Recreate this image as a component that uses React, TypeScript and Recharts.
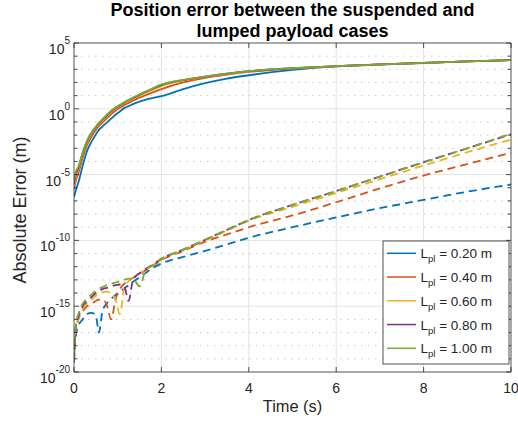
import React from 'react';
import { LineChart, Line, XAxis, YAxis, ReferenceLine } from 'recharts';

const W = 518;
const H = 424;
const PL = 74;
const PT = 43;
const PR = 511;
const PB = 372;
const PW = PR - PL;
const PH = PB - PT;
const FONT = '"Liberation Sans", Arial, Helvetica, sans-serif';
const AX = '#262626';

// time samples (s)
const time = [0, 0.04, 0.1, 0.2, 0.3, 0.4, 0.5, 0.57, 0.65, 0.75, 0.85, 0.95, 1.05, 1.15, 1.25, 1.35, 1.5, 1.65, 1.8, 2, 2.5, 3, 3.5, 4, 5, 6, 7, 8, 9, 10];

const lengthLabels = ['0.20', '0.40', '0.60', '0.80', '1.00'];
const colors = ['#0072BD', '#D95319', '#EDB120', '#7E2F8E', '#77AC30'];

// log10 of absolute error, solid curves
const solid020 = [-6.7, -6.2, -5.6, -4.3, -3.2, -2.5, -1.95, -1.6, -1.35, -1.05, -0.75, -0.45, -0.2, 0.05, 0.2, 0.35, 0.55, 0.7, 0.82, 0.96, 1.5, 1.95, 2.3, 2.55, 2.95, 3.22, 3.36, 3.48, 3.6, 3.7];
const solid040 = [-6.1, -5.5, -4.9, -3.7, -2.75, -2.1, -1.6, -1.3, -1.05, -0.72, -0.42, -0.15, 0.08, 0.28, 0.45, 0.62, 0.85, 1.05, 1.25, 1.5, 2.0, 2.35, 2.6, 2.8, 3.06, 3.23, 3.37, 3.49, 3.6, 3.7];
const solid060 = [-5.9, -5.2, -4.6, -3.45, -2.55, -1.92, -1.45, -1.15, -0.9, -0.55, -0.25, 0.0, 0.22, 0.42, 0.6, 0.77, 1.0, 1.22, 1.43, 1.72, 2.15, 2.43, 2.66, 2.85, 3.07, 3.24, 3.37, 3.49, 3.6, 3.7];
const solid080 = [-5.7, -5.0, -4.5, -3.35, -2.45, -1.85, -1.4, -1.08, -0.83, -0.5, -0.2, 0.06, 0.27, 0.47, 0.65, 0.82, 1.06, 1.3, 1.52, 1.8, 2.18, 2.44, 2.67, 2.86, 3.08, 3.24, 3.37, 3.49, 3.6, 3.7];
const solid100 = [-5.5, -4.8, -4.4, -3.3, -2.4, -1.8, -1.35, -1.05, -0.8, -0.45, -0.15, 0.1, 0.3, 0.5, 0.68, 0.85, 1.1, 1.32, 1.55, 1.85, 2.2, 2.45, 2.68, 2.86, 3.08, 3.24, 3.37, 3.49, 3.6, 3.7];

// log10 of absolute error, dashed curves
const dashed020 = [-19.3, -17.3, -16.5, -16.0, -15.6, -15.5, -15.7, -17.0, -15.4, -14.8, -14.45, -14.15, -13.9, -13.65, -13.4, -13.15, -12.8, -12.45, -12.1, -11.75, -11.25, -10.8, -10.3, -9.8, -9.0, -8.25, -7.55, -6.92, -6.3, -5.75];
const dashed040 = [-19.2, -17.0, -16.0, -15.4, -15.0, -14.8, -14.6, -14.5, -14.5, -14.9, -16.0, -14.5, -13.7, -13.3, -13.05, -12.85, -12.55, -12.25, -11.95, -11.5, -10.8, -10.1, -9.55, -9.0, -8.1, -7.1, -6.05, -5.07, -4.2, -3.35];
const dashed060 = [-19.1, -16.8, -15.9, -15.2, -14.8, -14.5, -14.2, -14.05, -13.95, -13.9, -14.0, -14.5, -15.6, -13.6, -13.1, -12.85, -12.5, -12.2, -11.9, -11.45, -10.72, -10.0, -9.25, -8.5, -7.45, -6.4, -5.35, -4.31, -3.3, -2.33];
const dashed080 = [-19.0, -16.7, -15.8, -15.0, -14.6, -14.3, -14.0, -13.85, -13.7, -13.6, -13.5, -13.4, -13.35, -13.5, -14.6, -13.0, -12.5, -12.15, -11.85, -11.4, -10.7, -9.95, -9.2, -8.45, -7.3, -6.25, -5.15, -4.06, -3.0, -1.93];
const dashed100 = [-18.9, -16.5, -15.6, -14.8, -14.4, -14.1, -13.85, -13.7, -13.55, -13.4, -13.3, -13.2, -13.1, -13.0, -12.9, -12.9, -13.5, -12.2, -11.88, -11.4, -10.7, -9.95, -9.2, -8.45, -7.3, -6.25, -5.15, -4.08, -3.0, -1.9];

const solidSeries = [solid020, solid040, solid060, solid080, solid100];
const dashedSeries = [dashed020, dashed040, dashed060, dashed080, dashed100];

const xTicks = [0, 2, 4, 6, 8, 10];
const yExponents = [-20, -19, -18, -17, -16, -15, -14, -13, -12, -11, -10, -9, -8, -7, -6, -5, -4, -3, -2, -1, 0, 1, 2, 3, 4, 5];
const yMajorExponents = [-20, -15, -10, -5, 0, 5];
const yTicks = yExponents.map((e) => Math.pow(10, e));

const rows = time.map((t, i) => {
  const r: Record<string, number> = { t };
  solidSeries.forEach((s, k) => { r['s' + k] = Math.pow(10, s[i]); });
  dashedSeries.forEach((s, k) => { r['d' + k] = Math.pow(10, s[i]); });
  return r;
});

const YTick = (props: any) => {
  const { x, y, payload } = props;
  const e = Math.round(Math.log10(payload.value));
  const major = yMajorExponents.includes(e);
  const len = major ? 5 : 3.5;
  return (
    <g>
      <line x1={x} x2={x + len} y1={y} y2={y} stroke={AX} strokeWidth={0.8} />
      <line x1={x + PW} x2={x + PW - len} y1={y} y2={y} stroke={AX} strokeWidth={0.8} />
      {major && (
        <text x={x - 4} y={y + 11} textAnchor="end" fontSize={14} fill={AX} fontFamily={FONT}>
          10<tspan dy={-10} fontSize={10}>{String(e)}</tspan>
        </text>
      )}
    </g>
  );
};

const XTick = (props: any) => {
  const { x, y, payload } = props;
  return (
    <g>
      <line x1={x} x2={x} y1={y} y2={y - 5} stroke={AX} strokeWidth={0.8} />
      <line x1={x} x2={x} y1={y - PH} y2={y - PH + 5} stroke={AX} strokeWidth={0.8} />
      <text x={x} y={y + 21} textAnchor="middle" fontSize={14} fill={AX} fontFamily={FONT}>
        {String(payload.value)}
      </text>
    </g>
  );
};

export default function App() {
  return (
    <div style={{ position: 'absolute', left: 0, top: 0, width: W, height: H, background: '#fff' }}>
      <LineChart
        width={W}
        height={H}
        data={rows}
        margin={{ top: PT, right: W - PR, bottom: 0, left: 0 }}
      >
        <XAxis
          dataKey="t"
          type="number"
          domain={[0, 10]}
          ticks={xTicks}
          interval={0}
          height={H - PB}
          tickLine={false}
          tickSize={0}
          tickMargin={0}
          tick={<XTick />}
          axisLine={{ stroke: AX, strokeWidth: 0.8 }}
          allowDataOverflow
        />
        <YAxis
          type="number"
          scale="log"
          domain={[1e-20, 1e5]}
          ticks={yTicks}
          interval={0}
          width={PL}
          tickLine={false}
          tickSize={0}
          tickMargin={0}
          tick={<YTick />}
          axisLine={{ stroke: AX, strokeWidth: 0.8 }}
          allowDataOverflow
        />
        {yExponents.filter((e) => !yMajorExponents.includes(e)).map((e) => (
          <ReferenceLine key={'mn' + e} y={Math.pow(10, e)} stroke="#c9c9c9" strokeWidth={1} strokeDasharray="1.5 5.5" />
        ))}
        {yMajorExponents.filter((e) => e > -20 && e < 5).map((e) => (
          <ReferenceLine key={'mj' + e} y={Math.pow(10, e)} stroke="#e3e3e3" strokeWidth={1} />
        ))}
        {xTicks.filter((v) => v > 0 && v < 10).map((v) => (
          <ReferenceLine key={'vx' + v} x={v} stroke="#e3e3e3" strokeWidth={1} />
        ))}
        {solidSeries.map((_, k) => (
          <Line
            key={'s' + k}
            dataKey={'s' + k}
            type="monotone"
            stroke={colors[k]}
            strokeWidth={1.8}
            dot={false}
            activeDot={false}
            isAnimationActive={false}
          />
        ))}
        {dashedSeries.map((_, k) => (
          <Line
            key={'d' + k}
            dataKey={'d' + k}
            type="monotone"
            stroke={colors[k]}
            strokeWidth={1.8}
            strokeDasharray="8 5"
            dot={false}
            activeDot={false}
            isAnimationActive={false}
          />
        ))}
        <ReferenceLine y={1e5} stroke={AX} strokeWidth={0.8} />
        <ReferenceLine x={10} stroke={AX} strokeWidth={0.8} />
      </LineChart>
      <svg
        width={W}
        height={H}
        style={{ position: 'absolute', left: 0, top: 0, pointerEvents: 'none' }}
        fontFamily={FONT}
      >
        <text x={(PL + PR) / 2} y={16} textAnchor="middle" fontSize={18} fontWeight="bold" fill="#000">
          Position error between the suspended and
        </text>
        <text x={(PL + PR) / 2} y={37} textAnchor="middle" fontSize={18} fontWeight="bold" fill="#000">
          lumped payload cases
        </text>
        <text x={(PL + PR) / 2} y={412} textAnchor="middle" fontSize={16.4} fill={AX}>
          Time (s)
        </text>
        <text transform="translate(26,210) rotate(-90)" textAnchor="middle" fontSize={18} fill={AX}>
          Absolute Error (m)
        </text>
        <rect x={383} y={241} width={126} height={123} fill="#fff" stroke={AX} strokeWidth={0.8} />
        {lengthLabels.map((lab, k) => {
          const cy = 253.3 + k * 23.75;
          return (
            <g key={lab}>
              <line x1={387} x2={416} y1={cy} y2={cy} stroke={colors[k]} strokeWidth={1.5} />
              <text x={420.5} y={cy + 5} fontSize={13.5} fill={AX}>
                L<tspan dy={4} fontSize={9.5}>pl</tspan><tspan dy={-4}>{' = ' + lab + ' m'}</tspan>
              </text>
            </g>
          );
        })}
      </svg>
    </div>
  );
}
